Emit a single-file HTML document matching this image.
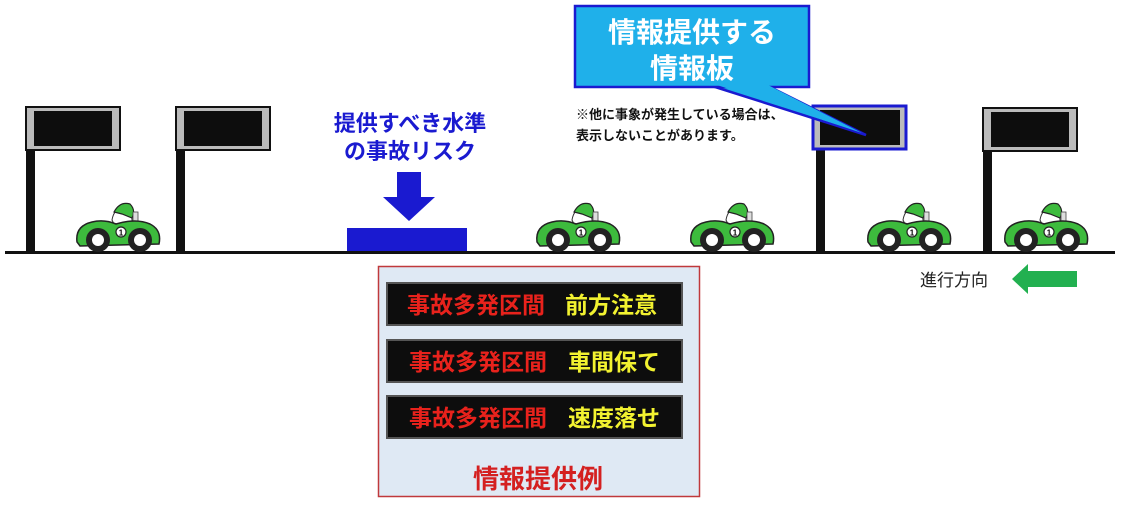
<!DOCTYPE html>
<html><head><meta charset="utf-8"><style>
html,body{margin:0;padding:0;background:#fff;width:1124px;height:506px;overflow:hidden}
svg{display:block}
text{font-family:"Liberation Sans","Noto Sans CJK JP",sans-serif;font-weight:bold}
</style></head><body>
<svg width="1124" height="506" viewBox="0 0 1124 506" xmlns="http://www.w3.org/2000/svg">
<defs>
<g id="car">
  <path d="M36 18 Q38 6 48 6 Q56 8 56 18 L58 24 L40 26 Z" fill="#fff" stroke="#333" stroke-width="1"/>
  <path d="M38 10 Q44 -1 54 2 Q60 8 56 16 L46 12 Z" fill="#3dbb3d" stroke="#222" stroke-width="1.2"/>
  <rect x="57" y="10" width="5" height="14" fill="#ddd" stroke="#444" stroke-width="0.8"/>
  <path d="M1 40 Q-1 24 16 20 Q28 17 40 22 Q60 16 74 22 Q86 28 83 42 L4 44 Z" fill="#3dbb3d" stroke="#222" stroke-width="1.5"/>
  <circle cx="45" cy="30" r="5" fill="#fff" stroke="#222" stroke-width="1.2"/>
  <text x="45" y="33.5" font-size="8" text-anchor="middle" fill="#000">1</text>
  <circle cx="22" cy="38" r="12" fill="#222"/><circle cx="22" cy="38" r="6" fill="#fff"/>
  <circle cx="64" cy="38" r="12" fill="#222"/><circle cx="64" cy="38" r="6" fill="#fff"/>
</g>
<g id="board">
  <rect x="0" y="0" width="94" height="43" fill="#bbb" stroke="#111" stroke-width="2"/>
  <rect x="8" y="4" width="78" height="35" fill="#0d0d0d"/>
</g>
</defs>

<rect x="26" y="148" width="9" height="105" fill="#111"/>
<rect x="176" y="148" width="9" height="105" fill="#111"/>
<rect x="816" y="148" width="9" height="105" fill="#111"/>
<rect x="983" y="148" width="9" height="105" fill="#111"/>
<use href="#board" x="26" y="107"/>
<use href="#board" x="176" y="107"/>
<use href="#board" x="983" y="108"/>
<rect x="813" y="106" width="93" height="43" fill="#bbb" stroke="#1a1ad0" stroke-width="3"/>
<rect x="820" y="110" width="80" height="35" fill="#0d0d0d"/>

<rect x="5" y="251" width="1110" height="3" fill="#111"/>

<use href="#car" x="76" y="202"/>
<use href="#car" x="536" y="202"/>
<use href="#car" x="690" y="202"/>
<use href="#car" x="867" y="202"/>
<use href="#car" x="1004" y="202"/>

<text x="410" y="131" font-size="22" fill="#1a1ad0" text-anchor="middle">提供すべき水準</text>
<text x="410" y="159" font-size="22" fill="#1a1ad0" text-anchor="middle">の事故リスク</text>
<polygon points="397,172 421,172 421,197 435,197 409,221 383,197 397,197" fill="#1a1ad0"/>
<rect x="347" y="228" width="120" height="23" fill="#1a1ad0"/>

<polygon points="712,86 768,86 866,135" fill="#1fb0ea" stroke="#1a1ad0" stroke-width="2.5"/>
<rect x="575" y="6" width="234" height="81" fill="#1fb0ea" stroke="#1a1ad0" stroke-width="2.5"/>
<polygon points="714,84 766,84 862,133" fill="#1fb0ea"/>
<text x="692" y="42" font-size="28" fill="#fff" text-anchor="middle">情報提供する</text>
<text x="692" y="78" font-size="28" fill="#fff" text-anchor="middle">情報板</text>
<text x="576" y="119" font-size="13" fill="#111">※他に事象が発生している場合は、</text>
<text x="576" y="140" font-size="13" fill="#111">表示しないことがあります。</text>

<text x="920" y="286" font-size="17" fill="#222" style="font-weight:normal">進行方向</text>
<polygon points="1012,279 1028,264 1028,271 1077,271 1077,287 1028,287 1028,294" fill="#22b050"/>

<rect x="378.5" y="266.5" width="321" height="230" fill="#dfe9f4" stroke="#c0393b" stroke-width="1.5"/>
<rect x="387" y="283" width="295" height="42" fill="#0d0d0d" stroke="#555" stroke-width="2"/>
<text x="407" y="313" font-size="23" fill="#e8221c">事故多発区間</text>
<text x="565" y="313" font-size="23" fill="#f2f230">前方注意</text>
<rect x="387" y="340" width="295" height="42" fill="#0d0d0d" stroke="#555" stroke-width="2"/>
<text x="409" y="370" font-size="23" fill="#e8221c">事故多発区間</text>
<text x="568" y="370" font-size="23" fill="#f2f230">車間保て</text>
<rect x="387" y="396" width="295" height="42" fill="#0d0d0d" stroke="#555" stroke-width="2"/>
<text x="409" y="426" font-size="23" fill="#e8221c">事故多発区間</text>
<text x="568" y="426" font-size="23" fill="#f2f230">速度落せ</text>
<text x="538" y="488" font-size="26" fill="#d42020" text-anchor="middle">情報提供例</text>
</svg>
</body></html>
